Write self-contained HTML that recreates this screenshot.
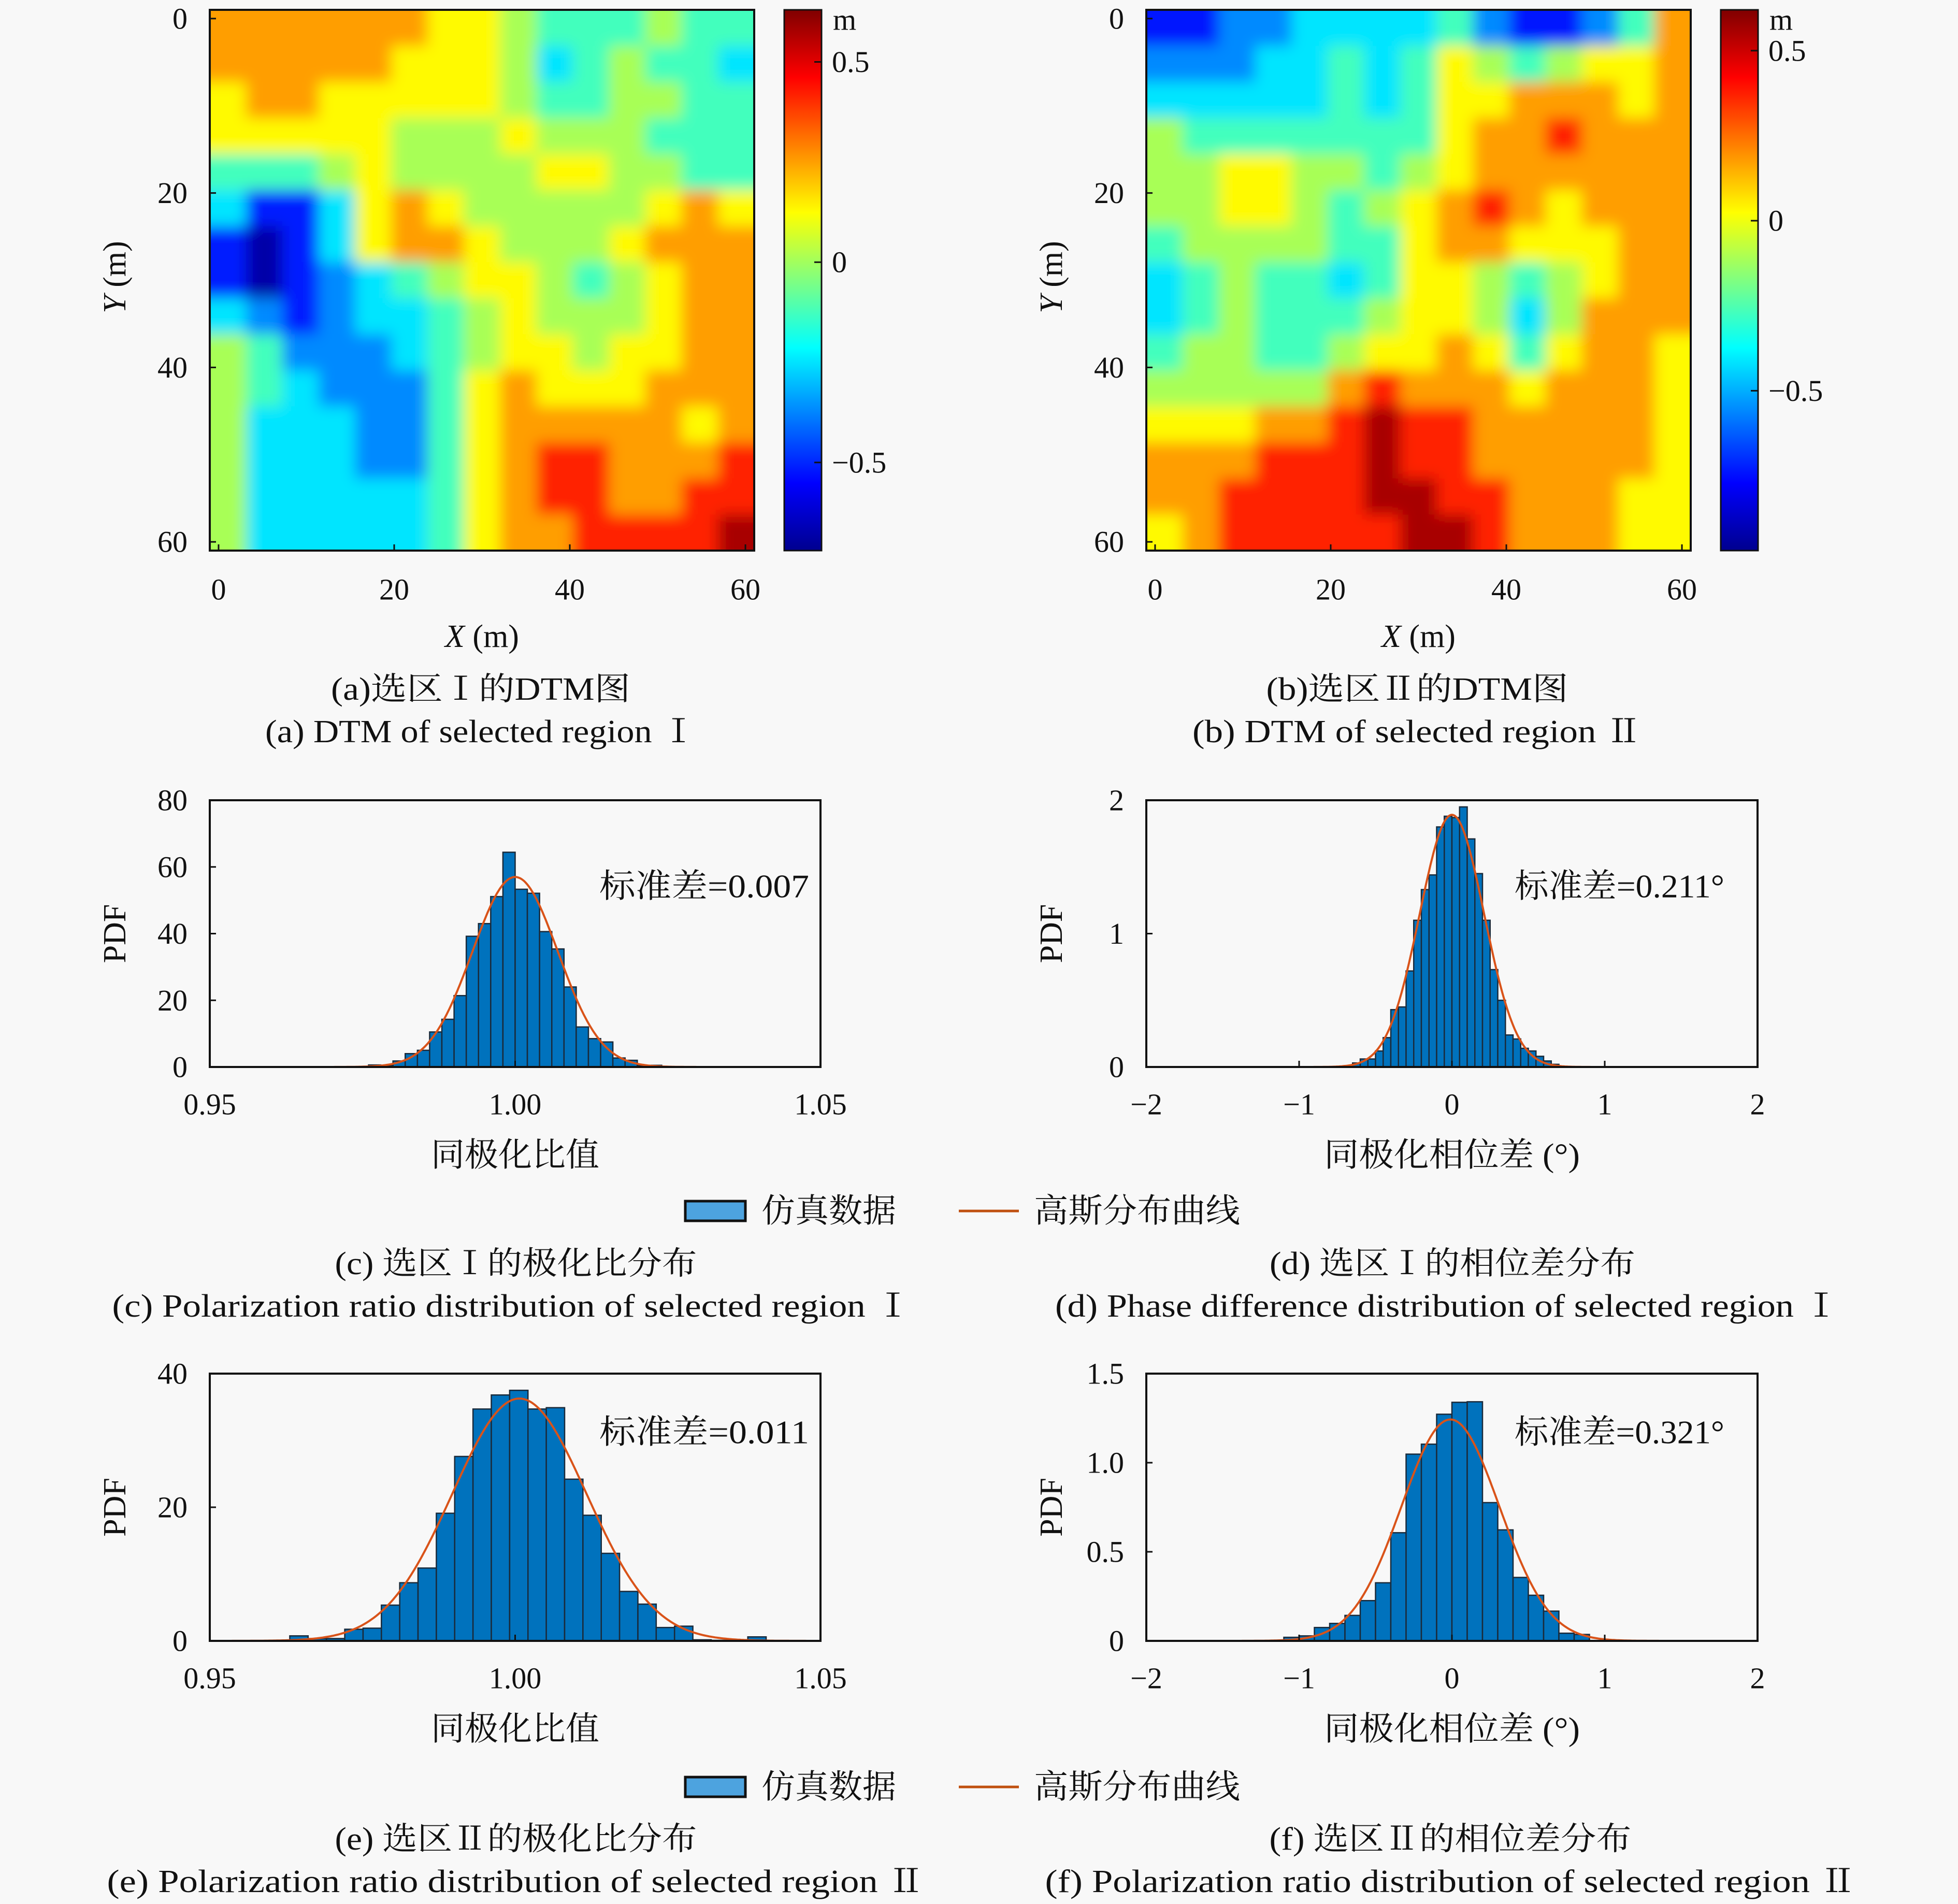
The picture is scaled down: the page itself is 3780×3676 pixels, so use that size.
<!DOCTYPE html>
<html><head><meta charset="utf-8">
<style>
html,body{margin:0;padding:0;background:#f8f8f8;}
svg{display:block;}
text{font-family:"Liberation Serif","Noto Serif CJK SC","Noto Sans CJK SC",serif;fill:#111;}
</style></head>
<body>
<svg id="fig" width="3780" height="3676" viewBox="0 0 3780 3676" xmlns="http://www.w3.org/2000/svg">
<defs>
<linearGradient id="jet" x1="0" y1="1" x2="0" y2="0">
<stop offset="0" stop-color="#00008f"/>
<stop offset="0.125" stop-color="#0000ff"/>
<stop offset="0.375" stop-color="#00ffff"/>
<stop offset="0.5" stop-color="#80ff80"/>
<stop offset="0.625" stop-color="#ffff00"/>
<stop offset="0.875" stop-color="#ff0000"/>
<stop offset="1" stop-color="#800000"/>
</linearGradient>
<filter id="soft" x="-5%" y="-5%" width="110%" height="110%"><feGaussianBlur stdDeviation="14"/></filter>
<clipPath id="clipA"><rect x="405" y="19" width="1051" height="1044"/></clipPath>
<clipPath id="clipB"><rect x="2213" y="19" width="1051" height="1044"/></clipPath>
</defs>
<rect x="0" y="0" width="3780" height="3676" fill="#f8f8f8"/>
</svg>
<script>
// ---------- DATA ----------
const dtmA = [
"777777665444544","777776665345443","677666665445544","666665556555444","444565555665544",
"311367655555676","101367765556777","101234566545677","321233456555677","542223456656677",
"543222467666777","533322467777767","533322467887778","533333467887788","533333467788889"];
const dtmB = [
"112233334211247","222334346545667","333334346677767","544444446778777","556655456777777",
"556654567876777","455554467766677","345443466545677","345444566535777","455445667646776",
"555557877767776","666778988777776","777888988777776","778888998877766","678888899877766"];
const levelFraction = [0.04,0.15,0.26,0.35,0.44,0.54,0.63,0.72,0.84,0.96];
const rangeA = [-0.72, 0.63];
const rangeB = [-0.97, 0.62];
const cbTicksA = [-0.5, 0, 0.5];
const cbTicksB = [-0.5, 0, 0.5];
const mapTicks = [0, 20, 40, 60];

const histCStart = 0.976, histCWidth = 0.002;
const histCVals = [0.6,0.4,1.8,4.0,5.0,10.5,14.3,21.4,39.2,43.0,51.1,64.4,53.3,52.1,40.6,35.4,24.0,12.0,8.5,7.5,2.7,2.0,0.4,0.5];
const gaussC = [1.0, 0.007];
const histDStart = -0.70, histDWidth = 0.05;
const histDVals = [0.01,0.03,0.06,0.06,0.12,0.22,0.43,0.45,0.72,1.10,1.33,1.44,1.80,1.88,1.87,1.95,1.71,1.45,1.10,0.73,0.50,0.24,0.21,0.14,0.12,0.08,0.045,0.02];
const gaussD = [0.0, 0.211];
const histEStart = 0.9631, histEWidth = 0.003;
const histEVals = [0.75,0.35,0.35,1.74,1.9,5.35,8.7,10.9,19.1,27.6,34.7,36.8,37.5,34.7,34.9,24.2,18.8,13.1,7.4,5.5,2.0,2.2,0.16,0.08,0.08,0.6];
const gaussE = [1.0007, 0.011];
const histFStart = -1.1, histFWidth = 0.1;
const histFVals = [0.02,0.028,0.075,0.098,0.143,0.226,0.326,0.607,1.048,1.104,1.272,1.339,1.342,0.776,0.623,0.356,0.256,0.167,0.043,0.036];
const gaussF = [-0.01, 0.321];

const ticksCX = [0.95, 1.00, 1.05], labelsCX = ["0.95","1.00","1.05"];
const ticksCY = [0,20,40,60,80], labelsCY = ["0","20","40","60","80"];
const ticksDX = [-2,-1,0,1,2], labelsDX = ["\u22122","\u22121","0","1","2"];
const ticksDY = [0,1,2], labelsDY = ["0","1","2"];
const ticksEY = [0,20,40], labelsEY = ["0","20","40"];
const ticksFY = [0,0.5,1,1.5], labelsFY = ["0","0.5","1.0","1.5"];

// ---------- HELPERS ----------
const NS = "http://www.w3.org/2000/svg";
const svg = document.getElementById("fig");
function mk(tag, attrs, name, parent) {
  const el = document.createElementNS(NS, tag);
  for (const k in attrs) el.setAttribute(k, attrs[k]);
  
  
  (parent || svg).appendChild(el);
  return el;
}
function txt(x, y, s, name, o) {
  o = o || {};
  const a = {x: x, y: y, "font-size": o.fs || 58, "text-anchor": o.anchor || "middle", "dominant-baseline": "central"};
  if (o.len) { a.textLength = o.len; a.lengthAdjust = "spacingAndGlyphs"; }
  if (o.tr) a.transform = o.tr;
  const t = mk("text", a, name);
  t.textContent = s;
  return t;
}
function jet(t) {
  const c = v => Math.max(0, Math.min(1, v));
  const r = c(1.5 - Math.abs(4*t - 3)), g = c(1.5 - Math.abs(4*t - 2)), b = c(1.5 - Math.abs(4*t - 1));
  return "rgb(" + Math.round(r*255) + "," + Math.round(g*255) + "," + Math.round(b*255) + ")";
}

// ---------- HEATMAPS ----------
function heatmap(id, grid, range, cbTicks, box, cb, ylabX, tickRight, cbLabelX, clip) {
  const dmin = -1, dmax = 61;
  const sx = v => box.x0 + (v - dmin) / (dmax - dmin) * (box.x1 - box.x0);
  const sy = v => box.y0 + (v - dmin) / (dmax - dmin) * (box.y1 - box.y0);
  const n = grid.length, step = (dmax - dmin) / n;
  const outer = mk("g", {"clip-path": "url(#" + clip + ")"}, id + "-plot-area");
  const g = mk("g", {filter: "url(#soft)"}, id + "-cells", outer);
  for (let r = 0; r < n; r++) {
    for (let c = 0; c < n; c++) {
      const level = +grid[r][c];
      const h = range[0] + levelFraction[level] * (range[1] - range[0]);
      const t = (h - range[0]) / (range[1] - range[0]);
      const x = sx(dmin + c*step), y = sy(dmin + r*step);
      let w = sx(dmin+(c+1)*step) - x + 0.8, hh = sy(dmin+(r+1)*step) - y + 0.8;
      let xx = x, yy = y;
      if (c === 0) { xx -= 40; w += 40; }
      if (c === n-1) { w += 40; }
      if (r === 0) { yy -= 40; hh += 40; }
      if (r === n-1) { hh += 40; }
      mk("rect", {x: xx, y: yy, width: w, height: hh, fill: jet(t)}, id + "-cell", g);
    }
  }
  mk("rect", {x: box.x0, y: box.y0, width: box.x1-box.x0, height: box.y1-box.y0, fill: "none", stroke: "#111", "stroke-width": 4}, id + "-frame");
  mapTicks.forEach(v => {
    mk("line", {x1: sx(v), x2: sx(v), y1: box.y1, y2: box.y1 - 12, stroke: "#111", "stroke-width": 3}, id + "-x-tick");
    mk("line", {x1: box.x0, x2: box.x0 + 12, y1: sy(v), y2: sy(v), stroke: "#111", "stroke-width": 3}, id + "-y-tick");
    txt(sx(v), 1138, String(v), id + "-x-tick-label");
    txt(tickRight, sy(v), String(v), id + "-y-tick-label", {anchor: "end"});
  });
  const xl = txt((box.x0 + box.x1)/2, 1229, "", id + "-x-axis-title", {fs: 62});
  xl.innerHTML = '<tspan font-style="italic">X</tspan> (m)';
  const yl = txt(ylabX, 535, "", id + "-y-axis-title", {fs: 62, tr: "rotate(-90 " + ylabX + " 535)"});
  yl.innerHTML = '<tspan font-style="italic">Y</tspan> (m)';
  mk("rect", {x: cb.x0, y: box.y0, width: cb.x1 - cb.x0, height: box.y1 - box.y0, fill: "url(#jet)", stroke: "#111", "stroke-width": 3}, id + "-colorbar");
  const cy = v => box.y1 - (v - range[0]) / (range[1] - range[0]) * (box.y1 - box.y0);
  cbTicks.forEach(v => {
    mk("line", {x1: cb.x1 - 14, x2: cb.x1, y1: cy(v), y2: cy(v), stroke: "#111", "stroke-width": 3}, id + "-colorbar-tick");
    txt(cbLabelX, cy(v), v < 0 ? "\u2212" + Math.abs(v) : String(v), id + "-colorbar-label", {anchor: "start"});
  });
  txt(cbLabelX + 2, 38, "m", id + "-colorbar-unit", {anchor: "start"});
}
heatmap("dtm-a", dtmA, rangeA, cbTicksA, {x0: 405, x1: 1456, y0: 19, y1: 1063}, {x0: 1514, x1: 1586}, 222, 362, 1606, "clipA");
heatmap("dtm-b", dtmB, rangeB, cbTicksB, {x0: 2213, x1: 3264, y0: 19, y1: 1063}, {x0: 3322, x1: 3394}, 2030, 2170, 3414, "clipB");

// ---------- HISTOGRAMS ----------
function hist(id, start, width, vals, gauss, box, dom, tx, tlx, ty, tly, ylabX, tickRight, xTitle, xTitleLen, ann, annX, annY) {
  const sx = v => box.x0 + (v - dom[0]) / (dom[1] - dom[0]) * (box.x1 - box.x0);
  const sy = v => box.y1 - (v - dom[2]) / (dom[3] - dom[2]) * (box.y1 - box.y0);
  const g = mk("g", {}, id + "-bars");
  vals.forEach((v, i) => {
    const xa = sx(start + i*width), xb = sx(start + (i+1)*width);
    mk("rect", {x: xa, y: sy(v), width: xb - xa, height: sy(0) - sy(v), fill: "#0072BD", stroke: "#1a2a3a", "stroke-width": 2.5}, id + "-bar", g);
  });
  let d = "";
  for (let k = 0; k <= 400; k++) {
    const x = dom[0] + k / 400 * (dom[1] - dom[0]);
    const y = Math.exp(-0.5 * Math.pow((x - gauss[0]) / gauss[1], 2)) / (gauss[1] * Math.sqrt(2*Math.PI));
    d += (k ? "L" : "M") + sx(x).toFixed(1) + " " + sy(Math.min(y, dom[3])).toFixed(1);
  }
  mk("path", {d: d, fill: "none", stroke: "#D95319", "stroke-width": 4}, id + "-gaussian-curve");
  mk("rect", {x: box.x0, y: box.y0, width: box.x1-box.x0, height: box.y1-box.y0, fill: "none", stroke: "#111", "stroke-width": 4}, id + "-frame");
  tx.forEach((v, i) => {
    mk("line", {x1: sx(v), x2: sx(v), y1: box.y1, y2: box.y1 - 12, stroke: "#111", "stroke-width": 3}, id + "-x-tick");
    txt(sx(v), box.y1 + 72, tlx[i], id + "-x-tick-label");
  });
  ty.forEach((v, i) => {
    mk("line", {x1: box.x0, x2: box.x0 + 12, y1: sy(v), y2: sy(v), stroke: "#111", "stroke-width": 3}, id + "-y-tick");
    txt(tickRight, sy(v), tly[i], id + "-y-tick-label", {anchor: "end"});
  });
  txt((box.x0+box.x1)/2, box.y1 + 170, xTitle, id + "-x-axis-title", {fs: 64, len: xTitleLen});
  const my = (box.y0 + box.y1)/2;
  txt(ylabX, my, "PDF", id + "-y-axis-title", {fs: 62, tr: "rotate(-90 " + ylabX + " " + my + ")"});
  txt(annX, annY, ann, id + "-std-annotation", {fs: 64, anchor: "start", len: ann.length > 10 ? 432 : 405});
}
hist("hist-c", histCStart, histCWidth, histCVals, gaussC, {x0:405,x1:1584,y0:1545,y1:2060}, [0.95,1.05,0,80], ticksCX, labelsCX, ticksCY, labelsCY, 222, 362, "同极化比值", 325, "标准差=0.007", 1157, 1711);
hist("hist-d", histDStart, histDWidth, histDVals, gaussD, {x0:2213,x1:3393,y0:1545,y1:2060}, [-2,2,0,2], ticksDX, labelsDX, ticksDY, labelsDY, 2030, 2170, "同极化相位差 (°)", 494, "标准差=0.211°", 2924, 1711);
hist("hist-e", histEStart, histEWidth, histEVals, gaussE, {x0:405,x1:1584,y0:2652,y1:3168}, [0.95,1.05,0,40], ticksCX, labelsCX, ticksEY, labelsEY, 222, 362, "同极化比值", 325, "标准差=0.011", 1157, 2765);
hist("hist-f", histFStart, histFWidth, histFVals, gaussF, {x0:2213,x1:3393,y0:2652,y1:3168}, [-2,2,0,1.5], ticksDX, labelsDX, ticksFY, labelsFY, 2030, 2170, "同极化相位差 (°)", 494, "标准差=0.321°", 2924, 2765);

// ---------- LEGENDS ----------
[2338, 3450].forEach((y, i) => {
  mk("rect", {x: 1323, y: y - 19, width: 116, height: 38, fill: "#4DA3DF", stroke: "#111", "stroke-width": 5}, "legend-patch-simulated");
  txt(1470, y, "仿真数据", "legend-label-simulated", {fs: 64, anchor: "start", len: 260});
  mk("line", {x1: 1851, x2: 1967, y1: y, y2: y, stroke: "#C0500F", "stroke-width": 5}, "legend-line-gaussian");
  txt(1996, y, "高斯分布曲线", "legend-label-gaussian", {fs: 64, anchor: "start", len: 398});
});

// ---------- CAPTIONS ----------
const caps = [
 [928, 1331, "(a)选区Ⅰ的DTM图", 578, "caption-a-cn"],
 [928, 1413, "(a) DTM of selected region Ⅰ", 832, "caption-a-en"],
 [2736, 1331, "(b)选区Ⅱ的DTM图", 583, "caption-b-cn"],
 [2736, 1413, "(b) DTM of selected region  Ⅱ", 868, "caption-b-en"],
 [996, 2440, "(c) 选区Ⅰ的极化比分布", 699, "caption-c-cn"],
 [988, 2522, "(c) Polarization ratio distribution of selected region Ⅰ", 1543, "caption-c-en"],
 [2804, 2440, "(d) 选区Ⅰ的相位差分布", 706, "caption-d-cn"],
 [2794, 2522, "(d) Phase difference distribution of selected region Ⅰ", 1514, "caption-d-en"],
 [996, 3551, "(e) 选区Ⅱ的极化比分布", 699, "caption-e-cn"],
 [996, 3633, "(e) Polarization ratio distribution of selected region  Ⅱ", 1579, "caption-e-en"],
 [2800, 3551, "(f) 选区Ⅱ的相位差分布", 699, "caption-f-cn"],
 [2801, 3633, "(f) Polarization ratio distribution of selected region  Ⅱ", 1567, "caption-f-en"]
];
caps.forEach(c => { txt(c[0], c[1], c[2], c[4], {fs: 62, len: c[3]}); });
</script>
</body></html>
